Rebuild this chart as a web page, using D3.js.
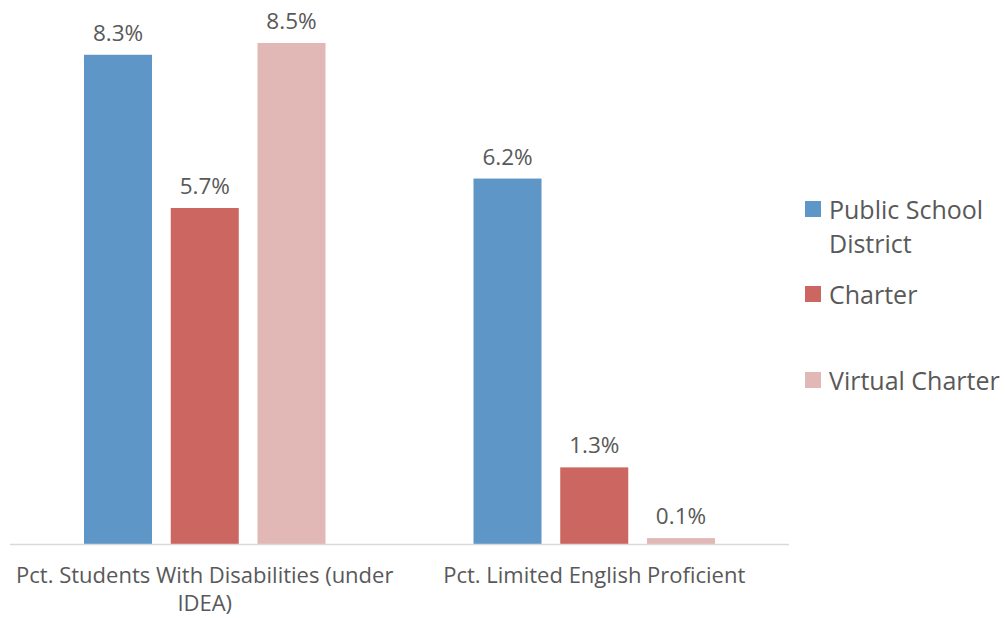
<!DOCTYPE html>
<html><head><meta charset="utf-8">
<script src="https://cdn.jsdelivr.net/npm/d3@7"></script>
<style>body{margin:0;background:#fff}text{font-family:"Open Sans",Lato,sans-serif;fill:#595959}</style>
</head><body><svg id="c" width="1005" height="618"></svg>
<script>
const categories = [["Pct. Students With Disabilities (under","IDEA)"],["Pct. Limited English Proficient"]];
const categoryKeys = ["disab","lep"];
const seriesNames = [["Public School","District"],["Charter"],["Virtual Charter"]];
const seriesKeys = ["psd","charter","virtual"];
const colors = ["#5f96c8","#cc6660","#e2b8b7"];
const psdValues = [8.3, 6.2];
const charterValues = [5.7, 1.3];
const virtualValues = [8.5, 0.1];
const valueLabels = [["8.3%","6.2%"],["5.7%","1.3%"],["8.5%","0.1%"]];

const svg = d3.select("#c");
const x0 = d3.scaleBand().domain(categoryKeys).range([10,789]);
const x1 = d3.scaleBand().domain(seriesKeys).range([0,x0.bandwidth()]).paddingInner(0.216).paddingOuter(0.853);
const y = d3.scaleLinear().domain([0,9]).range([544,13.5]);
const vals = [psdValues, charterValues, virtualValues];

categoryKeys.forEach((c,ci)=>{
  const g = svg.append("g").attr("transform",`translate(${x0(c)},0)`);
  seriesKeys.forEach((s,si)=>{
    const v = vals[si][ci];
    g.append("rect").attr("x",x1(s)).attr("width",x1.bandwidth())
      .attr("y",y(v)).attr("height",y(0)-y(v)).attr("fill",colors[si]);
    g.append("text").attr("x",x1(s)+x1.bandwidth()/2).attr("y",y(v)-14)
      .attr("text-anchor","middle").attr("font-size",22.5).text(valueLabels[si][ci]);
  });
  categories[ci].forEach((line,li)=>{
    svg.append("text").attr("text-anchor","middle").attr("font-size",22)
      .attr("x",x0(c)+x0.bandwidth()/2).attr("y",583+li*28).text(line);
  });
});
svg.append("line").attr("x1",10).attr("x2",789).attr("y1",y(0)+0.5).attr("y2",y(0)+0.5)
  .attr("stroke","#d9d9d9").attr("stroke-width",1.5);

const legY = [209,294,380];
seriesKeys.forEach((s,si)=>{
  svg.append("rect").attr("x",805).attr("y",legY[si]-8).attr("width",16).attr("height",16).attr("fill",colors[si]);
  seriesNames[si].forEach((line,li)=>{
    svg.append("text").attr("font-size",25).attr("x",829).attr("y",legY[si]+10+li*34).text(line);
  });
});
</script></body></html>
